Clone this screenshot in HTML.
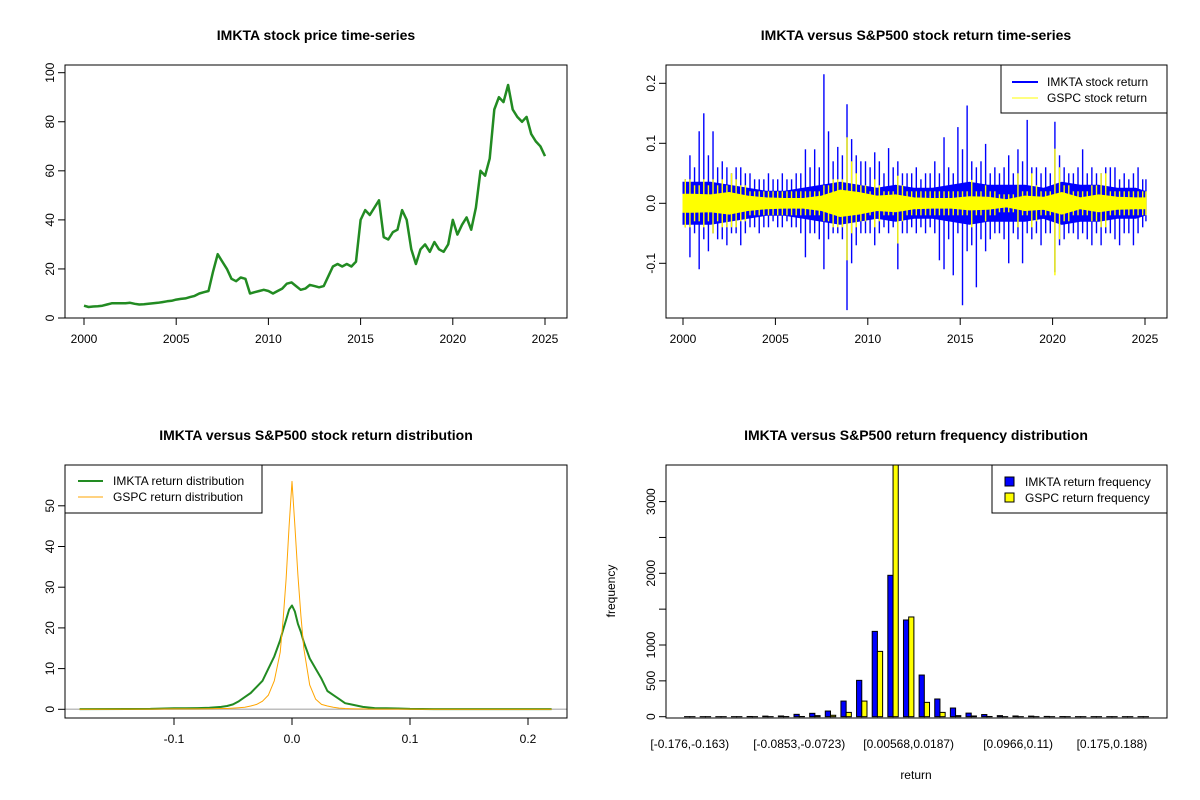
<!DOCTYPE html>
<html><head><meta charset="utf-8"><style>
html,body{margin:0;padding:0;background:#fff;}
svg{display:block;font-family:"Liberation Sans",Arial,sans-serif;}
</style></head><body>
<svg id="c" width="1200" height="800" viewBox="0 0 1200 800" xmlns="http://www.w3.org/2000/svg">
<rect width="1200" height="800" fill="#fff"/>
</svg>
<script>
// ---------- data ----------
const priceQuarterly = [5,4.5,4.7,4.8, 5,5.5,6,6, 6,6,6.2,5.8, 5.5,5.6,5.8,6, 6.2,6.5,6.8,7,
 7.5,7.8,8,8.5, 9,10,10.5,11, 19,26,23,20, 16,15,16.5,16, 10,10.5,11,11.5, 11,10,11,12,
 14,14.5,13,11.5, 12,13.5,13,12.5, 13,17,21,22, 21,22,21,23, 40,44,42,45, 48,33,32,35,
 36,44,40,28, 22,28,30,27, 31,28,27,30, 40,34,38,41, 36,45,60,58, 65,85,90,88,
 95,85,82,80, 82,75,72,70, 66];
const priceYTicks = [0,20,40,60,80,100];
const yearTicks = [2000,2005,2010,2015,2020,2025];

const imkMax = [4,8,6,12, 15,8,12,6, 7,6,5,6, 6,5,5,4, 4,4,5,4, 4,5,4,4, 5,5,9,6, 9,6,21.5,12,
 7,9.4,8,16.5, 10.7,8,7,7, 6,8.5,7,5, 9.2,6,7,5, 5,5,6,4, 5,5,7,5, 11,6,5,12.7, 9,16.3,7,6,
 7,9.9,5,6, 5,6,8,5, 9,7,13.9,6, 6,5,6,5, 13.6,8,6,5, 5,6,9,5, 6,5,5,6, 6,6,4,5, 4,5,6,4, 4];
const imkMin = [-4,-9,-5,-11, -6,-8,-5,-6, -6,-7,-5,-5, -7,-5,-4,-4, -5,-4,-4,-3, -4,-4,-3,-4,
 -4,-5,-9,-5, -5,-6,-11,-6, -5,-5,-6,-17.8, -10,-7,-5,-5, -5,-7,-5,-4, -5,-4,-11,-5,
 -5,-4,-5,-4, -5,-4,-5,-9.5, -11,-6,-12,-5, -17,-8,-7,-14, -6,-8,-6,-5, -5,-6,-10,-5,
 -6,-10,-5,-6, -5,-7,-5,-5, -11.5,-7,-6,-5, -5,-6,-5,-6, -7,-5,-7,-5, -5,-6,-7,-5, -5,-7,-5,-4, -3];
const imkCoreYearly = [3.5,3.5,3,2.5,2,2,2.5,3,3.5,3,2.5,3,2.5,2.5,3,3.5,3,3,3,2.5,3.5,3,3,2.5,2.5,2];
const gspMax = [4,4,3,3, 4,3,4,3, 4,3,5,4, 3,3,2,2, 2,2,2,2, 2,2,2,2, 2,2,2,2, 2,2,3,3,
 4,4,4,11, 7,5,3,3, 2,4,3,2, 2,2,4.6,3, 2,2,2,2, 2,2,2,2, 2,2,2,2, 2,2,3.9,2, 2,3,2,2,
 1.5,1.5,1.5,1.5, 5,2,2,5, 3,2,2,2, 9.1,6,3,3, 2,2,2,2, 3,3,5,5, 2,2,2,2, 2,2,2,2, 2];
const gspMin = [-4,-4,-3,-3, -4,-3,-5,-3, -4,-4,-4,-4, -3,-3,-2,-2, -2,-2,-2,-2, -2,-2,-2,-2,
 -2,-2,-2,-2, -2,-2,-3,-3, -4,-4,-4,-9.5, -5,-4,-3,-3, -2,-4,-3,-2, -2,-2,-6.7,-3,
 -2,-2,-2,-2, -2,-2,-2,-2, -2,-2,-2,-2, -2,-2,-4,-2, -2,-3,-2,-2, -1.5,-1.5,-1.5,-1.5,
 -4,-2,-2,-4, -3,-2,-2,-2, -12,-6,-3,-3, -2,-2,-2,-2, -3,-3,-4,-4, -2,-2,-2,-2, -2,-2,-2,-2, -2];
const gspCoreYearly = [1.5,1.4,1.8,1.2,0.9,0.8,0.8,1.2,2.2,1.8,1.2,1.4,0.9,0.8,0.8,1.1,1,0.6,1.2,1,1.8,0.9,1.4,1,0.9,0.9];
const retYTicks = [-0.1,0,0.1,0.2];
const retYLabels = ["-0.1","0.0","0.1","0.2"];

const densX  = [-0.18,-0.12,-0.1,-0.09,-0.08,-0.07,-0.06,-0.055,-0.05,-0.045,-0.04,-0.035,-0.03,-0.025,-0.02,-0.015,-0.01,-0.0075,-0.005,-0.0025,0,0.0025,0.005,0.0075,0.01,0.015,0.02,0.025,0.03,0.035,0.04,0.045,0.05,0.055,0.06,0.07,0.08,0.09,0.1,0.12,0.22];
const imkDens = [0.05,0.1,0.25,0.25,0.3,0.4,0.6,0.8,1.2,2,3,4,5.5,7,10,13,17,19.5,22,24.5,25.5,24,21,19,16.5,12.5,10,7.5,4.5,3.5,2.5,1.5,1.2,0.9,0.6,0.3,0.25,0.2,0.1,0.05,0.05];
const gspDens = [0,0.05,0.1,0.1,0.1,0.15,0.2,0.2,0.3,0.4,0.5,0.8,1.2,2,3.5,7,14,22,32,45,56,45,33,23,15,6,2.5,1.2,0.8,0.5,0.3,0.2,0.15,0.1,0.1,0.05,0.05,0.05,0.05,0,0];
const densXTicks = [-0.1,0,0.1,0.2];
const densXLabels = ["-0.1","0.0","0.1","0.2"];
const densYTicks = [0,10,20,30,40,50];

const binLabels = ["[-0.176,-0.163)","[-0.0853,-0.0723)","[0.00568,0.0187)","[0.0966,0.11)","[0.175,0.188)"];
const binLabelIdx = [0,7,14,21,27];
const imkFreq = [1,0,0,0,3,8,10,33,47,79,218,507,1190,1972,1349,581,247,121,50,30,15,10,8,4,2,1,1,1,0,1];
const gspFreq = [0,0,0,0,0,1,2,3,15,20,60,218,911,3600,1391,200,60,15,10,3,1,0,0,0,0,0,0,0,0,0];
const freqYTicks = [0,500,1000,1500,2000,2500,3000];
const freqYLabels = ["0","500","1000","","2000","","3000"];

// ---------- helpers ----------
const svg = document.getElementById('c');
const NS = 'http://www.w3.org/2000/svg';
function mk(tag, attrs, parent){
  const e = document.createElementNS(NS, tag);
  for (const k in attrs) e.setAttribute(k, attrs[k]);
  (parent||svg).appendChild(e);
  return e;
}
function txt(s, x, y, size, anchor, parent, rot, bold){
  const t = mk('text', {x:x, y:y, 'font-size':size, 'text-anchor':anchor||'middle', fill:'#000'}, parent);
  if (rot) t.setAttribute('transform', 'rotate(-90 '+x+' '+y+')');
  if (bold) t.setAttribute('font-weight', 'bold');
  t.textContent = s;
  return t;
}
function axisX(g, yb, ticks, fx, labels){
  mk('line', {x1:fx(ticks[0]), x2:fx(ticks[ticks.length-1]), y1:yb, y2:yb, stroke:'#000'}, g);
  ticks.forEach((v,i)=>{
    const x = fx(v);
    mk('line', {x1:x, x2:x, y1:yb, y2:yb+7, stroke:'#000'}, g);
    txt(labels ? labels[i] : String(v), x, yb+25, 12, 'middle', g);
  });
}
function axisY(g, xl, ticks, fy, labels){
  mk('line', {x1:xl, x2:xl, y1:fy(ticks[0]), y2:fy(ticks[ticks.length-1]), stroke:'#000'}, g);
  ticks.forEach((v,i)=>{
    const y = fy(v);
    mk('line', {x1:xl-7, x2:xl, y1:y, y2:y, stroke:'#000'}, g);
    const l = labels ? labels[i] : String(v);
    if (l !== '') txt(l, xl-11, y, 12, 'middle', g, true);
  });
}
function frame(g, x0, y0, x1, y1){
  mk('rect', {x:x0, y:y0, width:x1-x0, height:y1-y0, fill:'none', stroke:'#000', 'stroke-width':1}, g);
}

// ---------- panel 1: price ----------
(function(){
  const g = mk('g', {});
  
  
  const fx = t => 84 + (t-2000)*18.44;
  const fy = p => 318 - p*2.453;
  let d = '';
  priceQuarterly.forEach((p,i)=>{ d += (i?'L':'M') + fx(2000+i*0.25).toFixed(1) + ' ' + fy(p).toFixed(1); });
  const line = mk('path', {d:d, fill:'none', stroke:'#228B22', 'stroke-width':2.5, 'stroke-linejoin':'round'}, g);
  
  
  frame(g, 65, 65, 567, 318);
  axisX(g, 318, yearTicks, fx);
  axisY(g, 65, priceYTicks, fy);
  const t = txt('IMKTA stock price time-series', 316, 40, 14, 'middle', g, false, true);
  
  
})();

// ---------- panel 2: returns ----------
(function(){
  const g = mk('g', {});
  
  
  const fx = t => 683 + (t-2000)*18.48;
  const fy = v => 203.3 - v*600;
  function series(maxA, minA, coreA, color, name){
    const sg = mk('g', {}, g);
    
    
    // core band as smooth polygon through yearly values
    let top = '', bot = '';
    coreA.forEach((c,i)=>{
      const t = Math.min(2000 + i + 0.5, 2025);
      top += (i?'L':'M') + fx(t).toFixed(1) + ' ' + fy(c/100).toFixed(1);
    });
    for (let i = coreA.length-1; i >= 0; i--) {
      const t = Math.min(2000 + i + 0.5, 2025);
      bot += 'L' + fx(t).toFixed(1) + ' ' + fy(-coreA[i]/100).toFixed(1);
    }
    const x0 = fx(2000), x1 = fx(2025);
    const d = 'M' + x0 + ' ' + fy(coreA[0]/100) + top.replace(/^M/, 'L') + 'L' + x1 + ' ' + fy(coreA[coreA.length-1]/100) +
      'L' + x1 + ' ' + fy(-coreA[coreA.length-1]/100) + bot + 'L' + x0 + ' ' + fy(-coreA[0]/100) + 'Z';
    mk('path', {d:d, fill:color, stroke:color, 'stroke-width':1}, sg);
    maxA.forEach((mx,i)=>{
      const t0 = 2000 + i*0.25;
      const w = i === maxA.length-1 ? 0.1 : 0.25;
      const xc = fx(t0 + w/2);
      mk('line', {x1:xc, x2:xc, y1:fy(mx/100), y2:fy(minA[i]/100), stroke:color, 'stroke-width':1.4}, sg);
    });
  }
  series(imkMax, imkMin, imkCoreYearly, '#0000FF', 'imkta-return-series');
  series(gspMax, gspMin, gspCoreYearly, '#FFFF00', 'gspc-return-series');
  frame(g, 666, 65, 1167, 318);
  axisX(g, 318, yearTicks, fx);
  axisY(g, 666, retYTicks, fy, retYLabels);
  const t = txt('IMKTA versus S&P500 stock return time-series', 916, 40, 14, 'middle', g, false, true);
  
  
  const lg = mk('g', {}, g);
  
  
  mk('rect', {x:1001, y:65, width:166, height:48, fill:'#fff', stroke:'#000'}, lg);
  mk('line', {x1:1012, x2:1038, y1:82, y2:82, stroke:'#0000FF', 'stroke-width':2}, lg);
  mk('line', {x1:1012, x2:1038, y1:98, y2:98, stroke:'#FFFF00', 'stroke-width':1}, lg);
  txt('IMKTA stock return', 1047, 86, 12, 'start', lg);
  txt('GSPC stock return', 1047, 102, 12, 'start', lg);
})();

// ---------- panel 3: density ----------
(function(){
  const g = mk('g', {});
  
  
  const fx = v => 292 + v*1180;
  const fy = d => 709.3 - d*4.07;
  mk('line', {x1:65, x2:567, y1:fy(0), y2:fy(0), stroke:'#BEBEBE', 'stroke-width':1.5}, g);
  function path(arr, color, w, name){
    let d = '';
    arr.forEach((v,i)=>{ d += (i?'L':'M') + fx(densX[i]).toFixed(1) + ' ' + fy(v).toFixed(1); });
    const p = mk('path', {d:d, fill:'none', stroke:color, 'stroke-width':w, 'stroke-linejoin':'round'}, g);
    
    
  }
  path(imkDens, '#228B22', 2, 'imkta-density-line');
  path(gspDens, '#FFA500', 1, 'gspc-density-line');
  frame(g, 65, 465, 567, 718);
  axisX(g, 718, densXTicks, fx, densXLabels);
  axisY(g, 65, densYTicks, fy);
  const t = txt('IMKTA versus S&P500 stock return distribution', 316, 440, 14, 'middle', g, false, true);
  
  
  const lg = mk('g', {}, g);
  
  
  mk('rect', {x:65, y:465, width:197, height:48, fill:'#fff', stroke:'#000'}, lg);
  mk('line', {x1:78, x2:103, y1:481, y2:481, stroke:'#228B22', 'stroke-width':2}, lg);
  mk('line', {x1:78, x2:103, y1:497, y2:497, stroke:'#FFA500', 'stroke-width':1}, lg);
  txt('IMKTA return distribution', 113, 485, 12, 'start', lg);
  txt('GSPC return distribution', 113, 501, 12, 'start', lg);
})();

// ---------- panel 4: frequency bars ----------
(function(){
  const g = mk('g', {});
  
  
  const unit = 501/96.12;
  const fu = u => 666 + (u + 2.56)*unit;
  const fy = v => 716.7 - v*0.0717;
  const clipId = 'bclip';
  const cp = mk('clipPath', {id:clipId}, g);
  mk('rect', {x:666, y:465, width:501, height:253}, cp);
  const bg = mk('g', {'clip-path':'url(#'+clipId+')'}, g);
  imkFreq.forEach((v,i)=>{
    const u0 = 3*i + 1;
    const h1 = Math.max(fy(0)-fy(v), 0.05);
    const b1 = mk('rect', {x:fu(u0), y:fy(0)-h1, width:unit, height:h1, fill:'#0000FF', stroke:'#000', 'stroke-width':1}, bg);
    
    
    const gv = gspFreq[i];
    const h2 = Math.max(fy(0)-fy(gv), 0.05);
    const b2 = mk('rect', {x:fu(u0+1), y:fy(0)-h2, width:unit, height:h2, fill:'#FFFF00', stroke:'#000', 'stroke-width':1}, bg);
    
    
  });
  binLabelIdx.forEach((idx,k)=>{
    txt(binLabels[k], fu(3*idx+2), 748, 12, 'middle', g);
  });
  frame(g, 666, 465, 1167, 718);
  axisY(g, 666, freqYTicks, fy, freqYLabels);
  txt('frequency', 615, 591, 12, 'middle', g, true);
  txt('return', 916, 779, 12, 'middle', g);
  const t = txt('IMKTA versus S&P500 return frequency distribution', 916, 440, 14, 'middle', g, false, true);
  
  
  const lg = mk('g', {}, g);
  
  
  mk('rect', {x:992, y:465, width:175, height:48, fill:'#fff', stroke:'#000'}, lg);
  mk('rect', {x:1005, y:477, width:9, height:9, fill:'#0000FF', stroke:'#000'}, lg);
  mk('rect', {x:1005, y:493, width:9, height:9, fill:'#FFFF00', stroke:'#000'}, lg);
  txt('IMKTA return frequency', 1025, 486, 12, 'start', lg);
  txt('GSPC return frequency', 1025, 502, 12, 'start', lg);
})();
</script>
</body></html>
